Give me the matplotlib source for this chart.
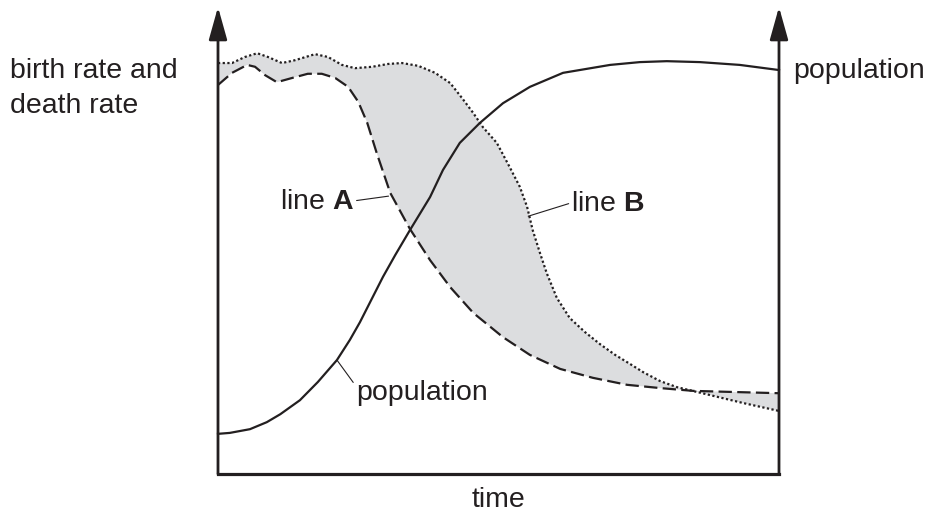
import numpy as np
import matplotlib
matplotlib.use("Agg")
import matplotlib.pyplot as plt

plt.rcParams['font.family'] = ['Liberation Sans', 'DejaVu Sans']
plt.rcParams['mathtext.fontset'] = 'custom'
plt.rcParams['mathtext.rm'] = 'Liberation Sans'
plt.rcParams['mathtext.bf'] = 'Liberation Sans:bold'

ink = "#231f20"
shade = "#dcdddf"

# time (0-100) and level (0-100)
t_B = [0, 2.5, 4.8, 7.0, 8.9, 11.4, 13.7, 17.3, 19.6, 22.1, 24.4, 27.5, 30.3,
       32.8, 35.7, 38.7, 41.4, 43.5, 45.5, 47.2, 49.7, 52.0, 53.8, 55.1, 56.1,
       57.4, 58.6, 60.4, 62.7, 65.4, 68.1, 70.8, 73.4, 75.8, 78.8, 81.8, 87.7,
       93.6, 100]
v_B = [88.0, 88.0, 89.3, 90.1, 89.3, 88.0, 88.6, 89.9, 89.3, 87.6, 86.9, 87.2, 87.8,
       88.0, 87.4, 85.9, 83.7, 80.5, 77.3, 74.3, 70.9, 65.7, 61.5, 57.2, 52.2,
       47.3, 43.0, 37.7, 33.4, 30.4, 27.8, 25.5, 23.6, 21.8, 19.9, 18.6, 16.9,
       15.2, 13.5]

t_A = [0, 2.5, 5.2, 6.6, 8.4, 10.5, 13.2, 16.0, 18.5, 20.9, 23.2, 25.0, 26.6,
       28.3, 30.7, 34.2, 37.8, 41.4, 45.5, 50.8, 55.6, 61.0, 66.8, 72.9, 78.8,
       84.7, 90.7, 100]
v_A = [83.3, 85.9, 87.6, 87.2, 85.4, 83.9, 84.8, 85.7, 85.7, 84.8, 82.9, 79.7, 75.2,
       68.7, 60.2, 52.5, 45.8, 40.0, 34.5, 29.3, 25.5, 22.5, 20.6, 19.1, 18.4,
       17.8, 17.6, 17.3]

t_pop = [0, 2.1, 5.7, 8.7, 11.1, 14.6, 17.8, 21.2, 23.5, 25.3, 29.4, 31.6, 34.2,
         37.8, 40.1, 43.1, 46.7, 50.8, 55.6, 61.5, 69.9, 75.2, 80.0, 85.9, 93.0, 100]
v_pop = [8.6, 8.8, 9.6, 11.1, 12.8, 15.8, 19.7, 24.4, 28.7, 32.5, 42.2, 46.9, 52.2,
         59.3, 65.1, 70.9, 75.2, 79.4, 82.9, 85.9, 87.6, 88.2, 88.4, 88.2, 87.6, 86.5]

fig = plt.figure(figsize=(9.31, 5.15), dpi=100)
ax = fig.add_axes([218/931, 41/515, 561/931, 467/515])
ax.set_xlim(0, 100)
ax.set_ylim(0, 100)
ax.set_xticks([])
ax.set_yticks([])
for s in ["left", "right", "top"]:
    ax.spines[s].set_visible(False)
ax.spines["bottom"].set_linewidth(2.3)
ax.spines["bottom"].set_color(ink)
ax.spines["bottom"].set_capstyle("projecting")

# shaded area between the two rate lines
ax.fill(np.r_[t_B, t_A[::-1]], np.r_[v_B, v_A[::-1]], color=shade, lw=0, zorder=1)

ax.plot(t_B, v_B, color=ink, lw=1.6, dashes=(1, 1.1), dash_capstyle="butt",
        solid_joinstyle="round", clip_on=False, zorder=3)
ax.plot(t_A, v_A, color=ink, lw=1.6, dashes=(6, 2.4), dash_capstyle="butt",
        solid_joinstyle="round", clip_on=False, zorder=3)
ax.plot(t_pop, v_pop, color=ink, lw=1.6, solid_joinstyle="round",
        clip_on=False, zorder=4)

# vertical axes with arrow heads
for xa in [0, 100]:
    ax.annotate("", xy=(xa, 100), xytext=(xa, 0), xycoords="data",
                arrowprops=dict(arrowstyle="-|>,head_length=1.0,head_width=0.28",
                                mutation_scale=20, color=ink, lw=2.0,
                                shrinkA=0, shrinkB=0),
                annotation_clip=False, zorder=5)

# labels with leader lines
ax.annotate("line $\\mathbf{A}$", xy=(30.4, 59.5), xytext=(11.0, 56.7),
            fontsize=20.5, color=ink, va="baseline", ha="left",
            arrowprops=dict(arrowstyle="-", color=ink, lw=0.8, shrinkA=0, shrinkB=0,
                            relpos=(1.0, 0.55)),
            annotation_clip=False)
ax.annotate("line $\\mathbf{B}$", xy=(55.3, 55.2), xytext=(63.0, 56.3),
            fontsize=20.5, color=ink, va="baseline", ha="left",
            arrowprops=dict(arrowstyle="-", color=ink, lw=0.8, shrinkA=0, shrinkB=0,
                            relpos=(0.0, 0.55)),
            annotation_clip=False)
ax.annotate("population", xy=(21.2, 24.4), xytext=(24.6, 15.9),
            fontsize=20.5, color=ink, va="baseline", ha="left",
            arrowprops=dict(arrowstyle="-", color=ink, lw=0.8, shrinkA=0, shrinkB=0,
                            relpos=(0.0, 0.75)),
            annotation_clip=False)

fig.text(10/931, 1 - 78/515, "birth rate and", fontsize=20.5, color=ink, va="baseline")
fig.text(10/931, 1 - 113/515, "death rate", fontsize=20.5, color=ink, va="baseline")
fig.text(793/931, 1 - 78/515, "population", fontsize=20.5, color=ink, va="baseline")
fig.text(498/931, 1 - 507/515, "time", fontsize=20.5, color=ink, va="baseline", ha="center")

fig.savefig("out.png", dpi=100)
